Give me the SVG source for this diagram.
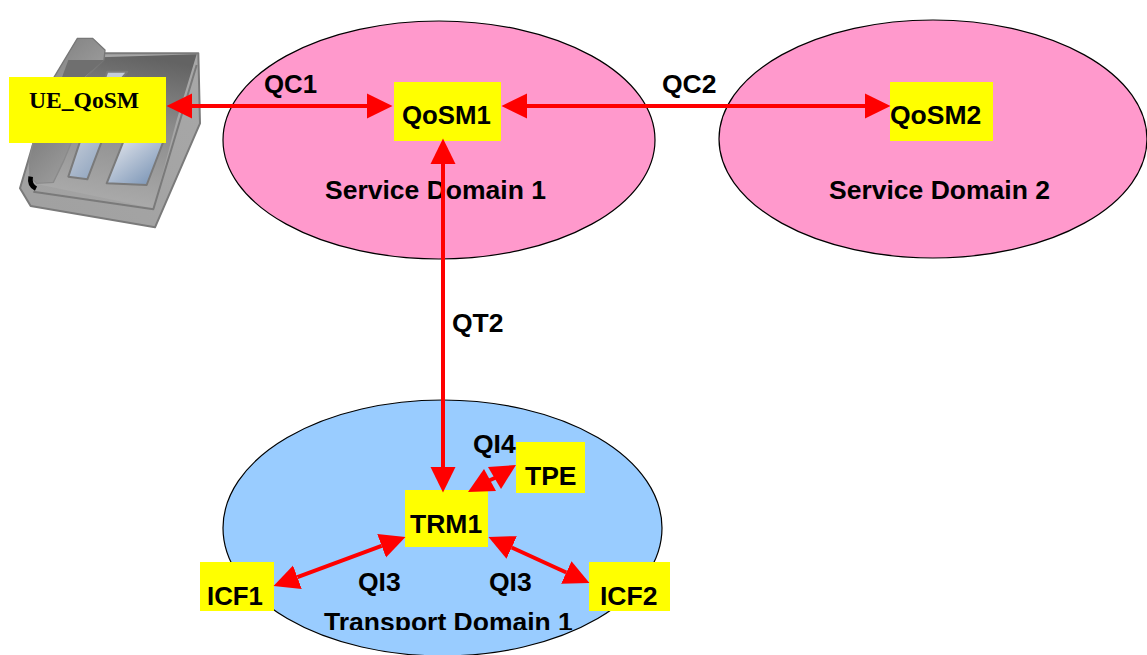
<svg xmlns="http://www.w3.org/2000/svg" width="1147" height="655" viewBox="0 0 1147 655">
<style>
.dom{stroke:#000;stroke-width:1.2}
.box{fill:#ff0}
.t{font-family:"Liberation Sans",Arial,sans-serif;font-weight:bold;font-size:26.5px;fill:#000}
.n{font-size:25.8px}
.s{font-family:"Liberation Serif","Times New Roman",serif;font-weight:bold;font-size:23.6px;fill:#000}
.c{stroke:#f00;stroke-width:4;fill:none;marker-start:url(#ah);marker-end:url(#ah)}
.h{fill:#f00}
.p{stroke:#7a7a7a;stroke-width:6;stroke-linejoin:round}
</style>
<defs>
<marker id="ah" markerUnits="userSpaceOnUse" markerWidth="26" markerHeight="26" refX="0" refY="13" orient="auto-start-reverse" viewBox="0 0 26 26"><path d="M0,0.5 L25.5,13 L0,25.5 Z" fill="#f00"/></marker>
<linearGradient id="gb" x1="0" y1="1" x2="1" y2="0"><stop offset="0" stop-color="#a0a0a0"/><stop offset="1" stop-color="#a8a8a8"/></linearGradient>
<linearGradient id="gs" x1="0.6" y1="0" x2="0.4" y2="1"><stop offset="0" stop-color="#636363"/><stop offset=".4" stop-color="#8a8a8a"/><stop offset="1" stop-color="#adadad"/></linearGradient>
<linearGradient id="gh" x1="0" y1="0" x2="1" y2="1"><stop offset="0" stop-color="#808080"/><stop offset="1" stop-color="#a0a0a0"/></linearGradient>
<linearGradient id="gw" x1="0" y1="0" x2="1" y2="1"><stop offset="0" stop-color="#e6e8ee"/><stop offset="1" stop-color="#6f8cb0"/></linearGradient>
<linearGradient id="gw2" x1="0" y1="0" x2="1" y2="1"><stop offset="0" stop-color="#c4ccd8"/><stop offset="1" stop-color="#8aa0bc"/></linearGradient>
<clipPath id="tc"><rect x="300" y="600" width="300" height="30"/></clipPath>
</defs>
<g id="phone" transform="translate(0,20) scale(.33333)">
<polygon class="p" points="60,505 92,558 465,622 600,310 595,100 310,100 210,115 100,370" fill="url(#gb)"/>
<polygon points="205,115 590,103 530,300 460,565 100,490 130,370" fill="url(#gs)"/>
<polyline class="p" points="100,515 460,568 590,135" fill="none"/>
<polygon class="p" points="322,155 382,155 365,175 315,175" fill="#c4ccd8"/>
<polygon class="p" points="205,470 262,478 305,365 240,365" fill="url(#gw2)"/>
<polygon class="p" points="320,490 440,495 490,365 370,365" fill="url(#gw)"/>
<polygon points="160,175 232,55 278,55 315,90 312,120 255,175" fill="url(#gh)" stroke="#777" stroke-width="4"/>
<path d="M205,120 L312,120 L250,175 H185 Z" fill="#6f6f6f"/>
<polygon points="100,365 88,420 90,470 110,490 160,487 190,425 215,365" fill="url(#gh)" stroke="#8a8a8a" stroke-width="4"/>
<path d="M92,470 C88,490 96,500 108,506" stroke="#000" stroke-width="14" fill="none"/>
</g>
<g id="service-domain-1"><ellipse class="dom" cx="439" cy="140" rx="216" ry="119" fill="#f9c"/><text class="t" x="325" y="199">Service Domain 1</text></g>
<g id="service-domain-2"><ellipse class="dom" cx="933" cy="139" rx="214" ry="119" fill="#f9c"/><text class="t" x="829" y="199">Service Domain 2</text></g>
<g id="transport-domain-1"><ellipse class="dom" cx="442.5" cy="528" rx="219.5" ry="128" fill="#9cf"/><text class="t" x="324" y="631" clip-path="url(#tc)">Transport Domain 1</text></g>
<g id="ue-qosm"><rect class="box" x="9" y="77" width="157" height="66"/><text class="s" x="29" y="108">UE_QoSM</text></g>
<g id="qosm1"><rect class="box" x="394" y="82" width="107" height="59"/><text class="t n" x="402" y="124">QoSM1</text></g>
<g id="qosm2"><rect class="box" x="890" y="82" width="103" height="59"/><text class="t" x="890" y="124">QoSM2</text></g>
<g id="trm1"><rect class="box" x="405" y="490" width="83" height="57"/><text class="t" x="410" y="533">TRM1</text></g>
<g id="tpe"><rect class="box" x="516" y="442" width="69" height="51"/><text class="t" x="525" y="485">TPE</text></g>
<g id="icf1"><rect class="box" x="200" y="562" width="74" height="49"/><text class="t n" x="207" y="605">ICF1</text></g>
<g id="icf2"><rect class="box" x="589" y="562" width="81" height="49"/><text class="t" x="600" y="605">ICF2</text></g>
<g id="connectors">
<path class="c" d="M192,106 H367"/>
<path class="c" d="M527,106 H865"/>
<path class="c" d="M443,164 V467"/>
<path class="c" d="M297.4,577.2 L381.6,545.8"/>
<path class="c" d="M511.7,547.5 L566.3,572.5"/>
<polygon class="h" points="468,492 484,469 496,491"/>
<polygon class="h" points="516,465 488,467 501,489"/>
<path d="M488,481 L497,477" stroke="#f00" stroke-width="4" fill="none"/>
</g>
<g id="labels">
<text class="t n" x="264" y="93">QC1</text>
<text class="t" x="662" y="93">QC2</text>
<text class="t" x="452" y="332">QT2</text>
<text class="t" x="473" y="453">QI4</text>
<text class="t" x="358" y="591">QI3</text>
<text class="t" x="489" y="591">QI3</text>
</g>
</svg>
